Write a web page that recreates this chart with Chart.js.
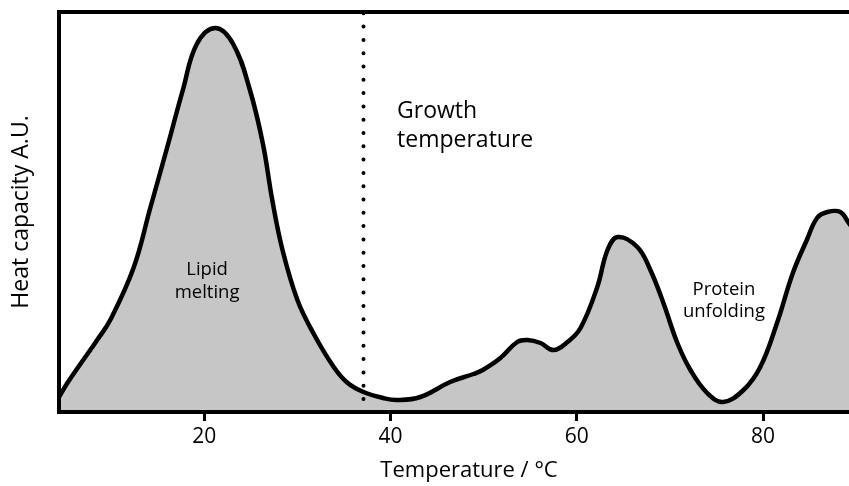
<!DOCTYPE html>
<html>
<head>
<meta charset="utf-8">
<script src="https://cdn.jsdelivr.net/npm/chart.js@4"></script>
<style>
  html, body { margin: 0; padding: 0; background: #fff; overflow: hidden; }
  #wrap { width: 849px; height: 486px; overflow: hidden; }
</style>
</head>
<body>
<div id="wrap"><canvas id="dsc" width="885" height="486"></canvas></div>
<script>
// temperature (°C) and heat capacity (A.U.)
const temps = [4.4, 5.3, 7.0, 8.5, 9.9, 12.4, 14.2, 16.0, 17.7, 19.2, 21.2, 23.1, 24.9, 26.3, 27.3, 28.4,
  30.0, 31.7, 33.9, 35.4, 37.1, 39.2, 40.7, 43.2, 46.4, 48.9, 49.9, 51.8, 53.6, 54.7, 56.1, 57.5, 59.0,
  60.4, 62.2, 63.3, 64.4, 66.5, 67.9, 69.3, 70.8, 72.2, 74.0, 75.7, 77.9, 79.7, 81.5, 83.2, 84.7, 85.8,
  86.9, 88.3, 89.2, 90.5];
const heatCap = [3.75, 7.25, 13, 18, 23, 36, 51, 66, 80.5, 92, 96, 92, 80.5, 67, 53, 40.5,
  28, 19.75, 11.25, 7.25, 5, 3.5, 3, 3.75, 7.5, 9.5, 10.5, 13.5, 17.5, 18, 17.25, 15.5, 17.5,
  21, 31.25, 40.5, 43.75, 41.25, 35.5, 27.25, 17.25, 10.5, 4.75, 2.5, 5.5, 11.25, 22.25, 34.75, 43, 48.5,
  50, 50, 47.25, 43];
const tempTicks = [20, 40, 60, 80];
const growthTemp = 37;

const points = temps.map((t, i) => ({ x: t, y: heatCap[i] }));
const FONT = "'Open Sans', 'DejaVu Sans', sans-serif";

const frameAndNotes = {
  id: 'frameAndNotes',
  afterDatasetsDraw(chart) {
    const { ctx, chartArea: a, scales: { x, y } } = chart;
    ctx.save();

    // dotted marker at growth temperature
    const gx = Math.round(x.getPixelForValue(growthTemp)) + 0.5;
    ctx.strokeStyle = '#000';
    ctx.lineWidth = 4;
    ctx.lineCap = 'round';
    ctx.setLineDash([0, 13.3]);
    ctx.beginPath();
    ctx.moveTo(gx, a.bottom - 13);
    ctx.lineTo(gx, a.top);
    ctx.stroke();
    ctx.setLineDash([]);

    // frame: top, left, bottom
    ctx.lineCap = 'butt';
    ctx.lineJoin = 'miter';
    ctx.lineWidth = 4;
    ctx.beginPath();
    ctx.moveTo(a.right + 10, a.top);
    ctx.lineTo(a.left, a.top);
    ctx.lineTo(a.left, a.bottom);
    ctx.lineTo(a.right + 10, a.bottom);
    ctx.stroke();

    // annotations
    ctx.fillStyle = '#000';
    ctx.textBaseline = 'alphabetic';
    ctx.textAlign = 'center';
    ctx.font = '18.5px ' + FONT;
    ctx.fillText('Lipid', x.getPixelForValue(20.3), y.getPixelForValue(34.25));
    ctx.fillText('melting', x.getPixelForValue(20.3), y.getPixelForValue(28.5));
    ctx.fillText('Protein', x.getPixelForValue(75.8), y.getPixelForValue(29.25));
    ctx.fillText('unfolding', x.getPixelForValue(75.8), y.getPixelForValue(23.75));

    ctx.textAlign = 'left';
    ctx.font = '23px ' + FONT;
    ctx.fillText('Growth', x.getPixelForValue(40.7), y.getPixelForValue(73.5));
    ctx.fillText('temperature', x.getPixelForValue(40.7), y.getPixelForValue(66.25));
    ctx.restore();
  }
};

new Chart(document.getElementById('dsc'), {
  type: 'line',
  data: {
    datasets: [{
      data: points,
      borderColor: '#000',
      borderWidth: 4.5,
      backgroundColor: '#c6c6c6',
      fill: 'origin',
      pointRadius: 0,
      tension: 0.4
    }]
  },
  options: {
    responsive: false,
    animation: false,
    devicePixelRatio: 1,
    layout: { padding: { left: 0, top: 12, right: 6, bottom: 0 } },
    plugins: { legend: { display: false }, tooltip: { enabled: false } },
    scales: {
      x: {
        type: 'linear',
        min: 4.4,
        max: 92.45,
        afterBuildTicks: s => { s.ticks = tempTicks.map(v => ({ value: v })); },
        afterFit: s => { s.height = 74; },
        border: { display: false },
        grid: { drawOnChartArea: false, drawTicks: true, tickLength: 9, lineWidth: 3, color: '#000' },
        ticks: { color: '#000', font: { family: FONT, size: 21 }, padding: 3, maxRotation: 0 },
        title: {
          display: true,
          text: 'Temperature / °C',
          color: '#000',
          font: { family: FONT, size: 22 },
          padding: { top: 0, bottom: 2 }
        }
      },
      y: {
        min: 0,
        max: 100,
        afterFit: s => { s.width = 59; },
        border: { display: false },
        grid: { display: false },
        ticks: { display: false },
        title: {
          display: true,
          text: 'Heat capacity A.U.',
          color: '#000',
          font: { family: FONT, size: 23 },
          padding: { top: 8, bottom: 0 }
        }
      }
    }
  },
  plugins: [frameAndNotes]
});
</script>
</body>
</html>
